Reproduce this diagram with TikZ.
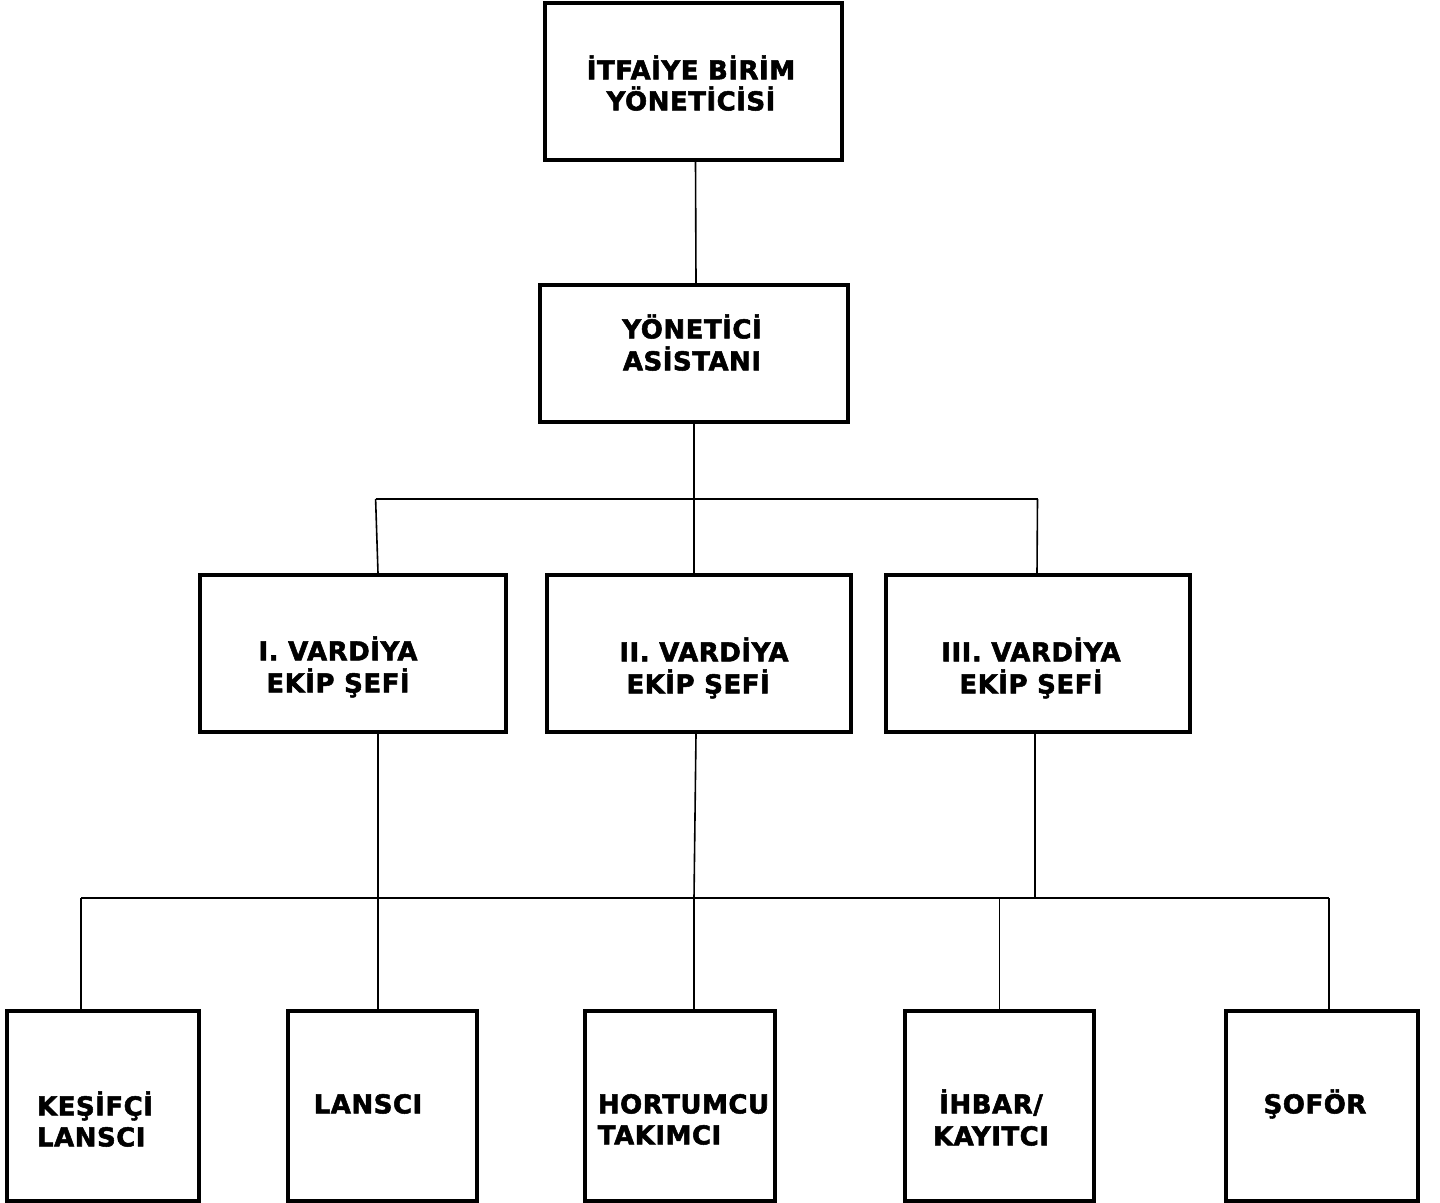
\documentclass[tikz,border=0pt]{standalone}
\usepackage{fontspec}
\setmainfont{DejaVu Sans}[BoldFeatures={FakeBold=2,LetterSpace=2}]
\begin{document}
\begin{tikzpicture}[x=0.5pt,y=-0.5pt,
  box/.style={draw, line width=2pt, inner sep=0pt, rectangle},
  conn/.style={line width=0.8pt},
  lbl/.style={inner sep=0pt, anchor=north, font=\bfseries\fontsize{13}{#1}\selectfont},
  lbl/.default=16pt]
\useasboundingbox (0,0) rectangle (1440,1203);
% boxes
\node[box, minimum width=148.5pt, minimum height=78.25pt] (T) at (693.5,81.75) {};
\node[box, minimum width=154pt, minimum height=68.5pt] (A) at (694,353.5) {};
\node[box, minimum width=153pt, minimum height=78.5pt] (V1) at (352.5,653.5) {};
\node[box, minimum width=152pt, minimum height=78.5pt] (V2) at (699,653.5) {};
\node[box, minimum width=152pt, minimum height=78.5pt] (V3) at (1038,653.5) {};
\node[box, minimum width=96pt, minimum height=95.25pt] (B1) at (103,1105.75) {};
\node[box, minimum width=94.5pt, minimum height=95.25pt] (B2) at (382.5,1105.75) {};
\node[box, minimum width=95pt, minimum height=95.25pt] (B3) at (680,1105.75) {};
\node[box, minimum width=94.5pt, minimum height=95.25pt] (B4) at (999.5,1105.75) {};
\node[box, minimum width=96pt, minimum height=95.25pt] (B5) at (1322,1105.75) {};
% labels
\node[lbl=15.5pt, align=center] (tT) at (691,53) {\rule{0pt}{13pt}İTFAİYE BİRİM\\YÖNETİCİSİ};
\node[lbl=16pt, align=center] (tA) at (692,312) {\rule{0pt}{13pt}YÖNETİCİ\\ASİSTANI};
\node[lbl=16pt, align=center] (tV1) at (338,634) {\rule{0pt}{13pt}I. VARDİYA\\EKİP ŞEFİ};
\node[lbl=16pt, align=left] (tV2) at (704,635) {\rule{0pt}{13pt}II. VARDİYA\\\hspace*{3.5pt}EKİP ŞEFİ};
\node[lbl=16pt, align=center] (tV3) at (1031,635) {\rule{0pt}{13pt}III. VARDİYA\\EKİP ŞEFİ};
\node[lbl=15.5pt, align=left] (tB1) at (95,1089) {\rule{0pt}{13pt}KEŞİFÇİ\\LANSCI};
\node[lbl=15.5pt, align=left] (tB2) at (368,1087) {\rule{0pt}{13pt}LANSCI};
\node[lbl=15.5pt, align=left] (tB3) at (683.5,1087) {\rule{0pt}{13pt}HORTUMCU\\TAKIMCI};
\node[lbl=16pt, align=center] (tB4) at (991,1087) {\rule{0pt}{13pt}İHBAR/\\KAYITCI};
\node[lbl=15.5pt, align=center] (tB5) at (1315,1087) {\rule{0pt}{13pt}ŞOFÖR};
% junction points
\coordinate (jA) at (694,499);
\coordinate (jL) at (375.6,499);
\coordinate (jR) at (1037.5,499);
\coordinate (hL) at (81,898);
\coordinate (hR) at (1329,898);
\coordinate (hM) at (694,898);
\coordinate (h3) at (1035,898);
\coordinate (h4) at (999.5,898);
% connectors
\draw[conn] ([xshift=1pt]T.south) -- ([xshift=1pt]A.north);
\draw[conn] (A.south) -- (jA);
\draw[conn] (jL) -- (jR);
\draw[conn] (jL) -- ([xshift=12.75pt]V1.north);
\draw[conn] (jA) -- (V2.north -| jA);
\draw[conn] (jR) -- ([xshift=-0.5pt]V3.north);
\draw[conn] (hL) -- (hR);
\draw[conn] ([xshift=12.75pt]V1.south) -- ([xshift=-2.25pt]B2.north);
\draw[conn] ([xshift=-1.5pt]V2.south) -- (hM);
\draw[conn] (hM) -- ([xshift=7pt]B3.north);
\draw[conn] ([xshift=-1.5pt]V3.south) -- (h3);
\draw[conn] (hL) -- ([xshift=-11pt]B1.north);
\draw[conn] (h4) -- (B4.north);
\draw[conn] (hR) -- ([xshift=3.5pt]B5.north);
\end{tikzpicture}
\end{document}
